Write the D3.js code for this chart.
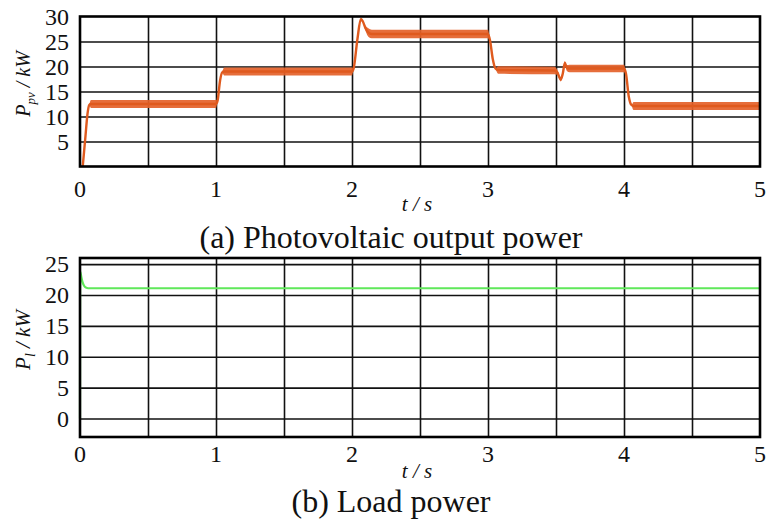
<!DOCTYPE html>
<html>
<head>
<meta charset="utf-8">
<script src="https://cdn.jsdelivr.net/npm/d3@7"></script>
<style>
  body { margin: 0; background: #fff; }
  text { font-family: "Liberation Serif", "Times New Roman", serif; fill: #111; }
</style>
</head>
<body>
<div id="chart"></div>
<script>
// --- data ---
const timeTicks = [0, 1, 2, 3, 4, 5];
const timeGrid = [0.5, 1, 1.5, 2, 2.5, 3, 3.5, 4, 4.5];
const pvTicks = [5, 10, 15, 20, 25, 30];
const loadTicks = [0, 5, 10, 15, 20, 25];

// photovoltaic output power (kW); ripple = half width of the switching band
const pvTime   = [0.02, 0.04, 0.055, 0.068, 0.08, 1.0, 1.012, 1.03, 1.045, 1.06, 2.0, 2.012, 2.04, 2.065, 2.08, 2.1, 2.12, 2.145, 2.16, 3.0, 3.015, 3.035, 3.055, 3.075, 3.49, 3.51, 3.535, 3.55, 3.565, 3.58, 3.6, 4.0, 4.015, 4.035, 4.055, 4.07, 5.0];
const pvPower  = [0, 6, 10.5, 12.3, 12.5, 12.5, 13.2, 17.2, 18.8, 19.0, 19.0, 19.6, 25.5, 29.5, 29.0, 27.6, 26.8, 26.5, 26.5, 26.5, 25.2, 21.5, 19.6, 19.3, 19.2, 18.8, 17.4, 18.6, 20.7, 19.7, 19.6, 19.6, 18.5, 14.0, 12.3, 12.1, 12.1];
const pvRipple = [0, 0, 0, 0, 0.8, 0.8, 0, 0, 0, 0.8, 0.8, 0, 0, 0, 0, 0.5, 0.85, 0.85, 0.85, 0.85, 0, 0, 0, 0.75, 0.75, 0.5, 0.4, 0.4, 0.4, 0.6, 0.75, 0.75, 0, 0, 0, 0.8, 0.8];

// load power (kW)
const loadTime  = [0, 0.001, 0.01, 0.02, 0.03, 0.045, 0.06, 5.0];
const loadPower = [0, 23.8, 22.9, 22.0, 21.5, 21.2, 21.1, 21.1];

const W = 768, H = 524;
const svg = d3.select("#chart").append("svg")
    .attr("width", W).attr("height", H)
    .attr("viewBox", `0 0 ${W} ${H}`);

const left = 80, right = 760;
const x = d3.scaleLinear().domain([0, 5]).range([left, right]);

function drawPanel(p) {
    const y = d3.scaleLinear().domain(p.yDomain).range([p.bottom, p.top]);
    const g = svg.append("g");

    // vertical grid
    g.append("g")
        .attr("transform", `translate(0,${p.bottom})`)
        .call(d3.axisBottom(x).tickValues(timeGrid).tickSize(-(p.bottom - p.top)).tickFormat(""))
        .call(a => a.select(".domain").remove())
        .call(a => a.selectAll("line").attr("stroke", "#111").attr("stroke-width", 1.6));

    // horizontal grid
    g.append("g")
        .attr("transform", `translate(${left},0)`)
        .call(d3.axisLeft(y).tickValues(p.grid).tickSize(-(right - left)).tickFormat(""))
        .call(a => a.select(".domain").remove())
        .call(a => a.selectAll("line").attr("stroke", "#111").attr("stroke-width", 1.6));

    // traces
    p.drawTrace(g, y);

    // frame
    g.append("rect")
        .attr("x", left).attr("y", p.top)
        .attr("width", right - left).attr("height", p.bottom - p.top)
        .attr("fill", "none").attr("stroke", "#000").attr("stroke-width", 2.6);

    // y tick labels
    g.append("g")
        .attr("transform", `translate(${left},0)`)
        .call(d3.axisLeft(y).tickValues(p.yTicks).tickSize(0).tickPadding(11).tickFormat(d3.format("d")))
        .call(a => a.select(".domain").remove())
        .call(a => a.selectAll("text").attr("font-size", 24).attr("fill", "#111")
            .style("font-family", "Liberation Serif"));

    // x tick labels
    g.selectAll("text.xt")
        .data(timeTicks)
        .join("text")
        .attr("class", "xt")
        .attr("x", d => x(d))
        .attr("y", p.xLabelY)
        .attr("text-anchor", "middle")
        .attr("font-size", 24)
        .text(d => d);

    // x axis title
    g.append("text")
        .attr("x", 417).attr("y", p.xTitleY)
        .attr("text-anchor", "middle")
        .attr("font-size", 21)
        .attr("font-style", "italic")
        .text("t / s");

    // y axis title
    const yt = g.append("text")
        .attr("transform", `translate(${p.yTitleX},${p.yTitleY}) rotate(-90)`)
        .attr("text-anchor", "middle")
        .attr("font-size", p.yTitleSize)
        .attr("font-style", "italic");
    yt.append("tspan").text("P");
    yt.append("tspan").attr("font-size", p.yTitleSize * 0.65).attr("dy", 5).text(p.sub);
    yt.append("tspan").attr("dy", -5).text(" / kW");

    // caption
    g.append("text")
        .attr("x", 391).attr("y", p.captionY)
        .attr("text-anchor", "middle")
        .attr("font-size", 32)
        .text(p.caption);
}

// (a) photovoltaic output power
drawPanel({
    top: 16.5, bottom: 166.5, yDomain: [0, 30],
    grid: [5, 10, 15, 20, 25], yTicks: pvTicks,
    xLabelY: 197, xTitleY: 211, captionY: 248,
    yTitleX: 30, yTitleY: 84, yTitleSize: 20, sub: "pv",
    caption: "(a) Photovoltaic output power",
    drawTrace(g, y) {
        const pts = pvTime.map((t, i) => ({t, v: pvPower[i], r: pvRipple[i]}));
        g.append("path")
            .datum(pts)
            .attr("fill", "#e4622a")
            .attr("fill-opacity", 0.92)
            .attr("d", d3.area()
                .x(d => x(d.t))
                .y0(d => y(d.v - d.r))
                .y1(d => y(d.v + d.r))
                .curve(d3.curveMonotoneX));
        g.append("path")
            .datum(pts)
            .attr("fill", "none")
            .attr("stroke", "#df5a1e")
            .attr("stroke-width", 2.4)
            .attr("stroke-linejoin", "round")
            .attr("d", d3.line()
                .x(d => x(d.t))
                .y(d => y(d.v))
                .curve(d3.curveMonotoneX));
    }
});

// (b) load power
drawPanel({
    top: 258, bottom: 437, yDomain: [-3, 26],
    grid: [0, 5, 10, 15, 20, 25], yTicks: loadTicks,
    xLabelY: 462, xTitleY: 478, captionY: 512,
    yTitleX: 30, yTitleY: 340, yTitleSize: 21, sub: "l",
    caption: "(b) Load power",
    drawTrace(g, y) {
        const pts = loadTime.map((t, i) => ({t, v: loadPower[i]}));
        g.append("path")
            .datum(pts)
            .attr("fill", "none")
            .attr("stroke", "#5fe85a")
            .attr("stroke-width", 2.2)
            .attr("d", d3.line()
                .x(d => x(d.t))
                .y(d => y(d.v))
                .curve(d3.curveMonotoneX));
    }
});
</script>
</body>
</html>
